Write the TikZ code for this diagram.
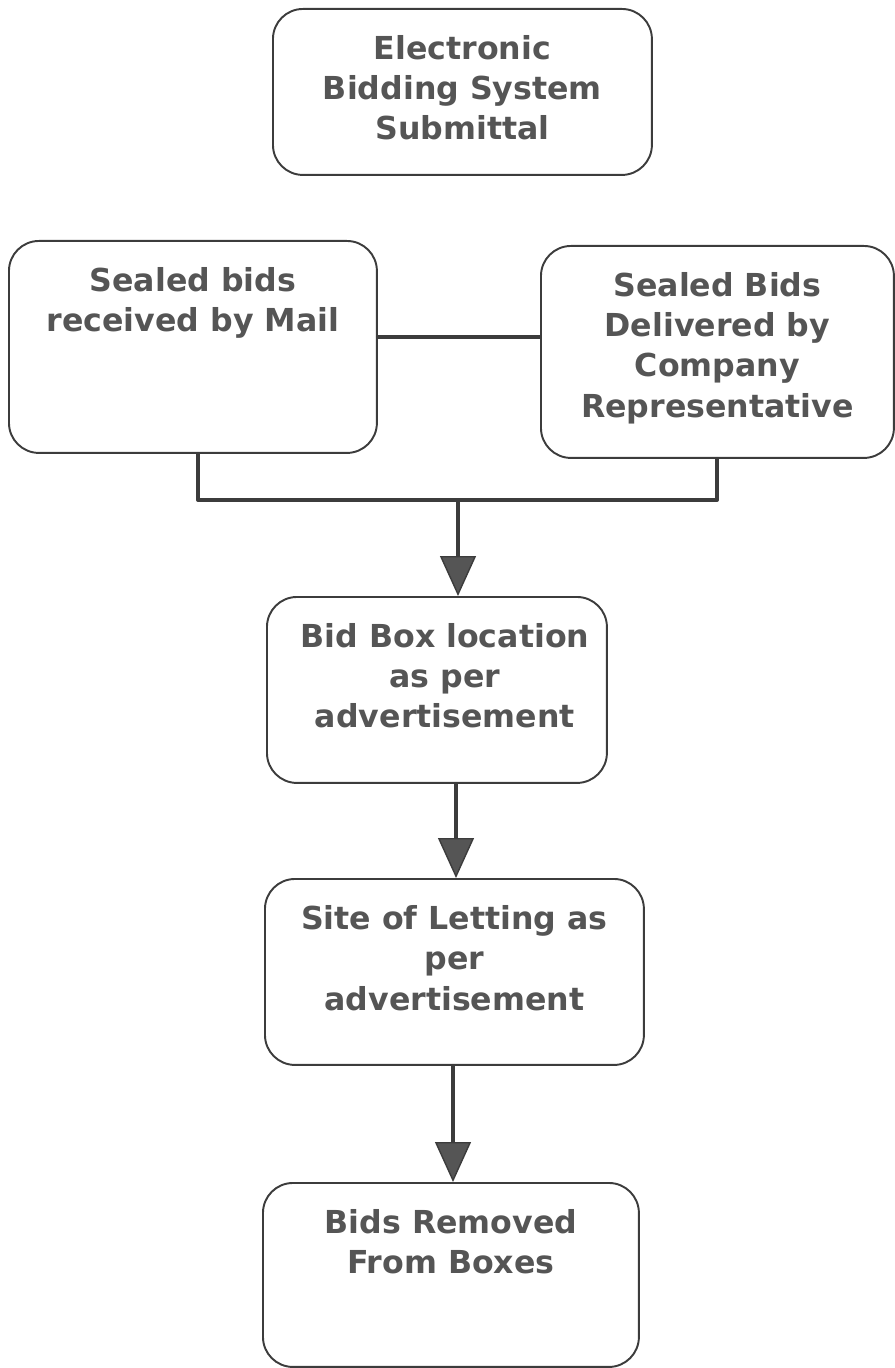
\documentclass[tikz,border=0pt]{standalone}
\usepackage{fontspec}
\setmainfont{DejaVu Sans}
\usetikzlibrary{positioning,arrows.meta}
\definecolor{ink}{RGB}{60,60,60}
\definecolor{txt}{RGB}{85,85,85}
\tikzset{
  box/.style={draw=ink, line width=1.1pt, rounded corners=0.6cm, anchor=north west, inner sep=0pt},
  lbl/.style={text=txt, font=\bfseries\fontsize{18}{22.8}\selectfont, align=center, inner sep=0pt},
  link/.style={draw=ink, line width=2.2pt},
  arr/.style={link, -{Triangle[width=0.72cm,length=0.8cm,fill=txt,line width=0.8pt]}}
}
\begin{document}
\begin{tikzpicture}[x=0.02cm, y=-0.02cm, line join=round, line cap=round]
  \useasboundingbox (0,0) rectangle (895,1368);

  \node[box, minimum width=7.58cm, minimum height=3.32cm] (esys) at (272,8) {};
  \node[box, minimum width=7.36cm, minimum height=4.24cm] (mail) at (8,240) {};
  \node[box, minimum width=7.06cm, minimum height=4.24cm] (rep) at (540,245) {};
  \node[box, minimum width=6.8cm, minimum height=3.72cm] (bidbox) at (266,596) {};
  \node[box, minimum width=7.58cm, minimum height=3.72cm] (letting) at (264,878) {};
  \node[box, minimum width=7.52cm, minimum height=3.68cm] (removed) at (262,1182) {};

  \node[lbl, below=0.55cm of esys.north] (esystxt) {Electronic\\Bidding System\\Submittal};
  \node[lbl, below=0.55cm of mail.north] (mailtxt) {Sealed bids\\received by Mail};
  \node[lbl, below=0.55cm of rep.north] (reptxt) {Sealed Bids\\Delivered by\\Company\\Representative};
  \node[lbl, below=0.55cm of bidbox.north, xshift=0.16cm] (bidboxtxt) {Bid Box location\\as per\\advertisement};
  \node[lbl, below=0.55cm of letting.north] (lettingtxt) {Site of Letting as\\per\\advertisement};
  \node[lbl, below=0.55cm of removed.north] (removedtxt) {Bids Removed\\From Boxes};

  \coordinate (h) at (0,337);
  \coordinate (l) at (198,0);
  \coordinate (r) at (717,0);
  \coordinate (j) at (458,500);
  \coordinate (a2) at (456,0);
  \coordinate (a3) at (453,0);

  \draw[link] (mail.east |- h) -- (rep.west |- h);
  \draw[link] (mail.south -| l) |- (j) -| (rep.south -| r);
  \draw[arr] (j) -- (j |- bidbox.north);
  \draw[arr] (bidbox.south -| a2) -- (letting.north -| a2);
  \draw[arr] (letting.south -| a3) -- (removed.north -| a3);
\end{tikzpicture}
\end{document}
